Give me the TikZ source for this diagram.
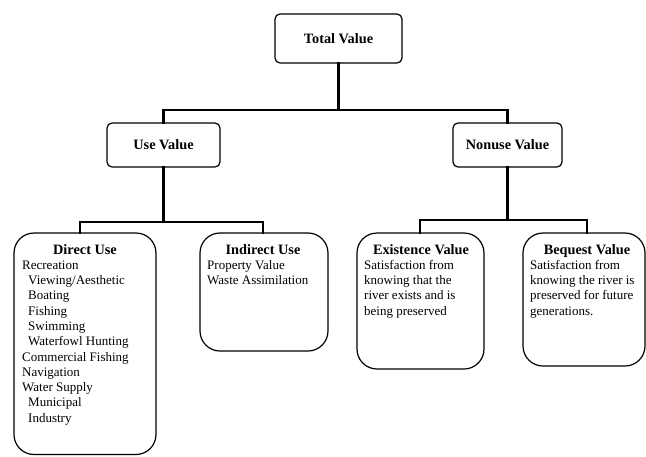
\documentclass[tikz,border=0pt]{standalone}
\usepackage{fontspec}
\setmainfont{Liberation Serif}
\begin{document}
\begin{tikzpicture}[x=1pt,y=-1pt,
  box/.style={draw, line width=1.2pt, inner sep=0pt, rounded corners=#1},
  box/.default=5pt,
  link/.style={line width=2.8pt, line join=miter, line cap=rect},
  head/.style={font=\fontsize{14.3}{16}\selectfont\bfseries, inner sep=0pt},
  body/.style={font=\fontsize{13}{15.3}\selectfont, align=left, inner sep=0pt, anchor=north west}]
\useasboundingbox (0,0) rectangle (646,456);

% top levels
\node[box, minimum width=127pt, minimum height=49pt, head] (total) at (338.5,38.5) {Total Value};
\node[box, minimum width=113pt, minimum height=44pt, head] (use) at (163.5,145) {Use Value};
\node[box, minimum width=109pt, minimum height=44pt, head] (nonuse) at (507.5,145) {Nonuse Value};

% leaf boxes
\node[box=20pt, minimum width=142pt, minimum height=221.5pt] (direct) at (85,343.75) {};
\node[box=20pt, minimum width=128pt, minimum height=118pt] (indirect) at (264,292) {};
\node[box=20pt, minimum width=127pt, minimum height=136pt] (exist) at (420.5,301) {};
\node[box=20pt, minimum width=122pt, minimum height=133pt] (bequest) at (584,299.5) {};

% leaf texts
\node[head, anchor=base] (directh) at (85,254) {Direct Use};
\node[body] (directb) at (22,258.3) {\strut Recreation\\
  \hspace{6pt}Viewing/Aesthetic\\
  \hspace{6pt}Boating\\
  \hspace{6pt}Fishing\\
  \hspace{6pt}Swimming\\
  \hspace{6pt}Waterfowl Hunting\\
  Commercial Fishing\\
  Navigation\\
  Water Supply\\
  \hspace{6pt}Municipal\\
  \hspace{6pt}Industry};

\node[head, anchor=base] (indirecth) at (263,254) {Indirect Use};
\node[body] (indirectb) at (207,258.3) {\strut Property Value\\ Waste Assimilation};

\node[head, anchor=base] (existh) at (421,254) {Existence Value};
\node[body] (existb) at (364,258.3) {\strut Satisfaction from\\ knowing that the\\ river exists and is\\ being preserved};

\node[head, anchor=base] (bequesth) at (587,254) {Bequest Value};
\node[body] (bequestb) at (530,258.3) {\strut Satisfaction from\\ knowing the river is\\ preserved for future\\ generations.};

% junctions
\coordinate (j0) at (338.5,110);
\coordinate (j1) at (163.5,222);
\coordinate (j2) at (507.5,220);

% connectors
\draw[link] (total.south) -- (j0);
\draw[link] (use.north) |- (j0) -| (nonuse.north);
\draw[link] (use.south) -- (j1);
\draw[link] (direct.north -| 80,0) |- (j1) -| (indirect.north -| 263,0);
\draw[link] (nonuse.south) -- (j2);
\draw[link] (exist.north -| 420,0) |- (j2) -| (bequest.north -| 587,0);
\end{tikzpicture}
\end{document}
